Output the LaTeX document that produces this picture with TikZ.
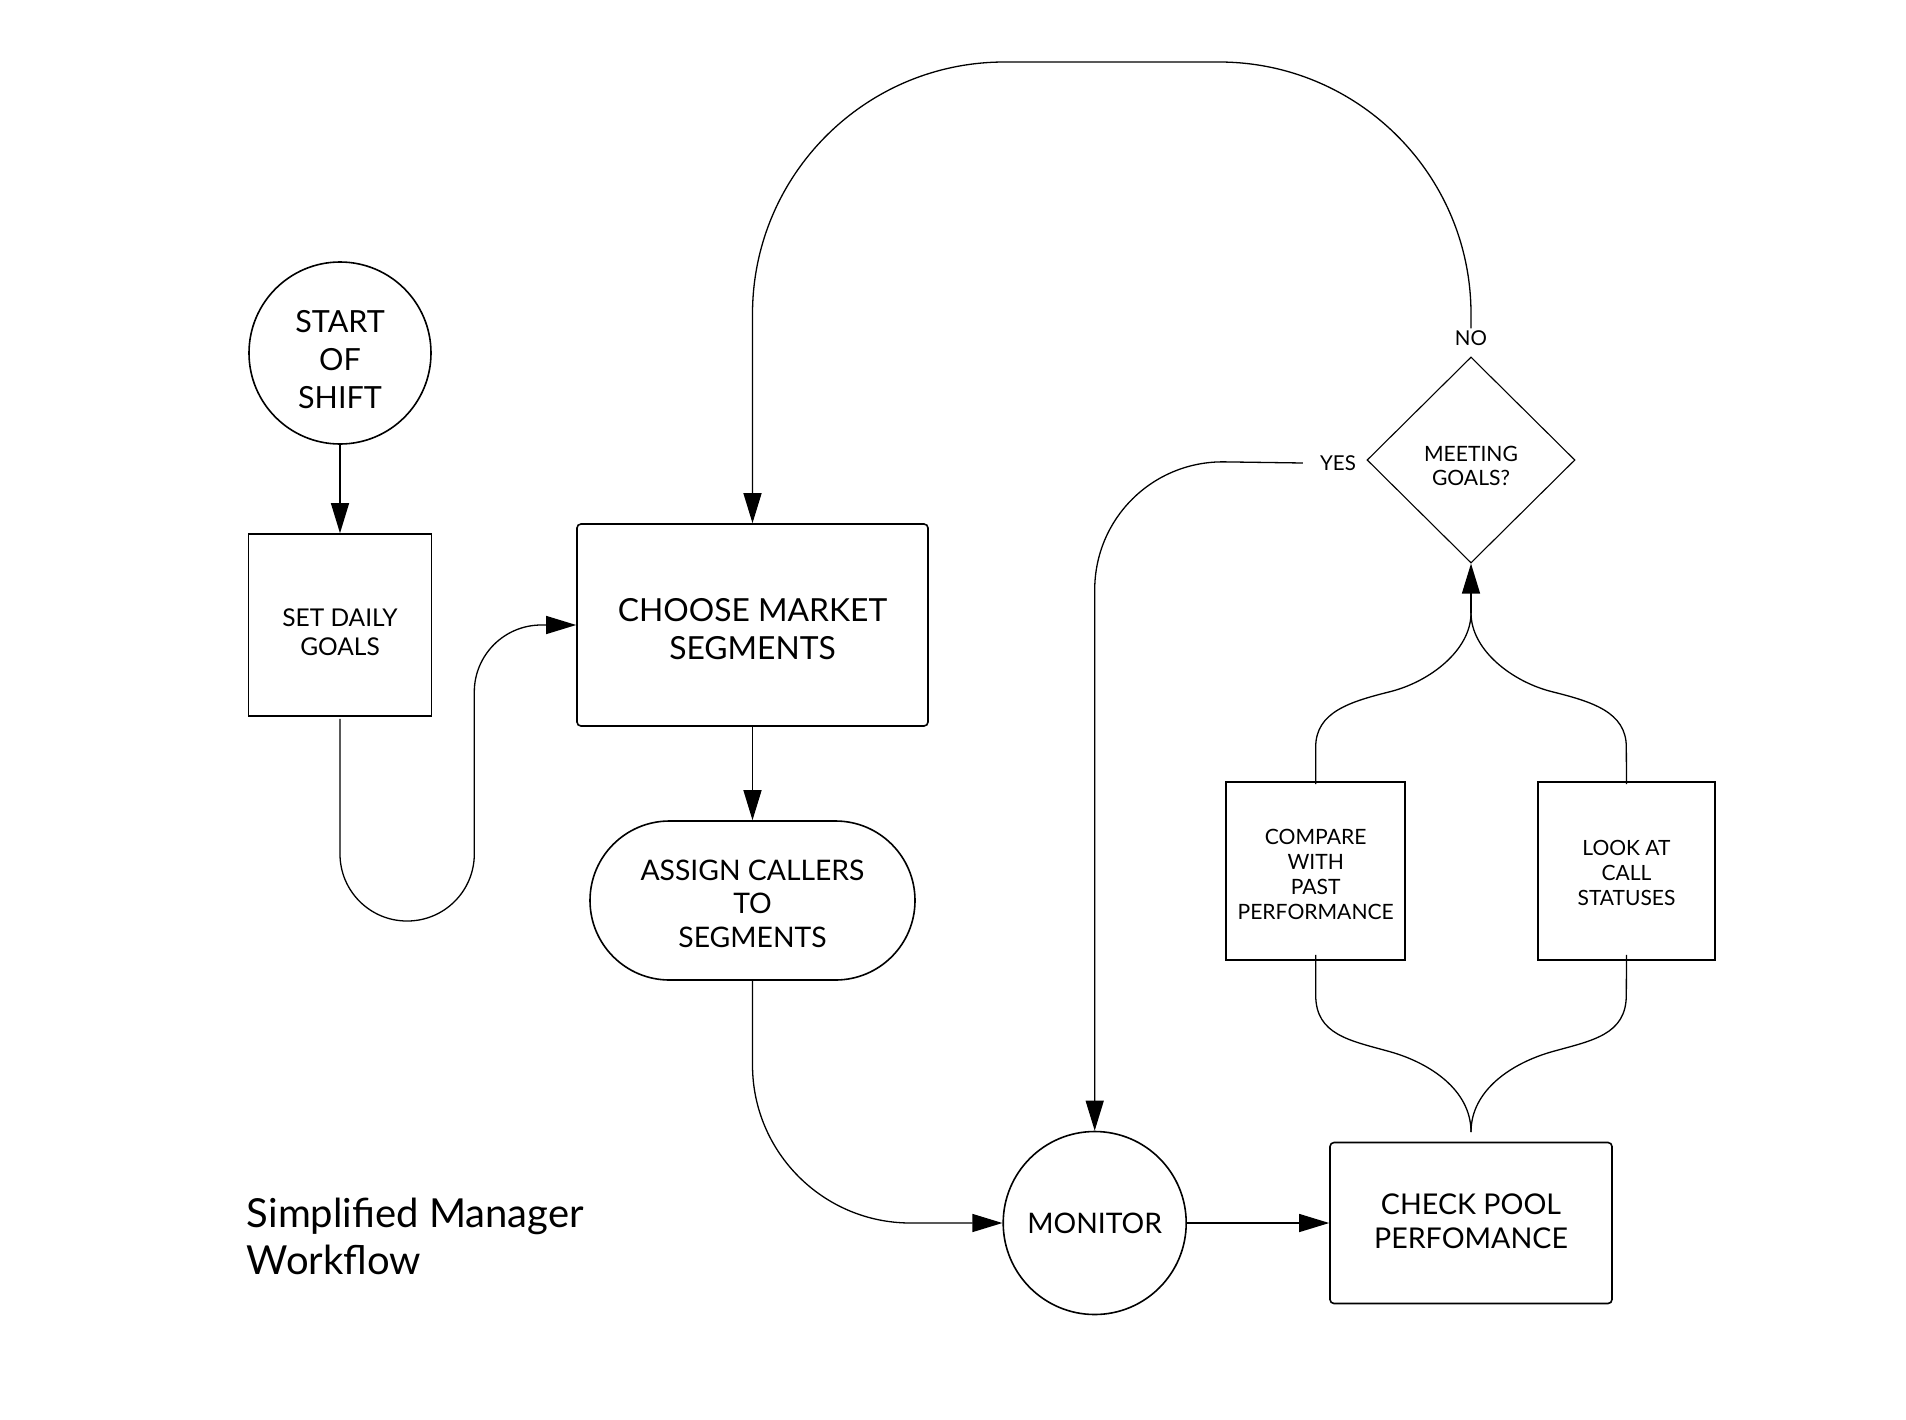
\documentclass[tikz,border=0pt]{standalone}
\usepackage{fontspec}
\setmainfont{Lato}
\usetikzlibrary{arrows.meta,shapes.geometric,calc}
\begin{document}
\begin{tikzpicture}[x=1pt,y=-1pt,
  nd/.style={draw, line width=1.6pt, inner sep=0pt},
  txt/.style={inner sep=0pt, align=center, text=black},
  conn/.style={draw, line width=1.3pt},
  arr/.style={-{Triangle[length=30pt,width=18pt]}},
  fs/.style 2 args={font=\fontsize{#1}{#2}\selectfont},
  lbl/.style={inner sep=0pt, text=black}]
\useasboundingbox (0,0) rectangle (1906,1419);
\fill[white] (0,0) rectangle (1906,1419);

% shapes
\node[nd, circle, minimum size=182pt] (start) at (340,353) {};
\node[nd, rectangle, minimum width=183pt, minimum height=182pt] (goals) at (340,625) {};
\node[nd, rectangle, rounded corners=4pt, minimum width=351pt, minimum height=202pt] (choose) at (752.5,625) {};
\node[nd, rectangle, rounded corners=79.5pt, minimum width=325pt, minimum height=159pt] (assign) at (752.5,900.5) {};
\node[nd, circle, minimum size=183pt] (monitor) at (1094.7,1223) {};
\node[nd, rectangle, rounded corners=4pt, minimum width=282pt, minimum height=161pt] (check) at (1471,1223) {};
\node[nd, rectangle, minimum width=179pt, minimum height=178pt] (compare) at (1315.7,871) {};
\node[nd, rectangle, minimum width=177pt, minimum height=178pt] (look) at (1626.5,871) {};
\node[nd, diamond, line width=1.1pt, minimum width=208pt, minimum height=206pt] (meet) at (1471,460) {};

% texts
\node[txt, fs={30.5}{38}] (starttxt) at ([yshift=-7pt]start.center) {START\\OF\\SHIFT};
\node[txt, fs={24.5}{29}] (goalstxt) at ([yshift=-7pt]goals.center) {SET DAILY\\GOALS};
\node[txt, fs={31.8}{37.5}] (choosetxt) at ([yshift=-4pt]choose.center) {CHOOSE MARKET\\SEGMENTS};
\node[txt, fs={28.3}{33.5}] (assigntxt) at ([yshift=-3pt]assign.center) {ASSIGN CALLERS\\TO\\SEGMENTS};
\node[txt, fs={28.3}{33}] (monitortxt) at (monitor.center) {MONITOR};
\node[txt, fs={28.6}{34}] (checktxt) at ([yshift=2pt]check.center) {CHECK POOL\\PERFOMANCE};
\node[txt, fs={21.1}{25}] (comparetxt) at ([yshift=-3pt]compare.center) {COMPARE\\WITH\\PAST\\PERFORMANCE};
\node[txt, fs={21}{25}] (looktxt) at ([yshift=-2pt]look.center) {LOOK AT\\CALL\\STATUSES};
\node[txt, fs={21.1}{24.5}] (meettxt) at ([yshift=-6pt]meet.center) {MEETING\\GOALS?};
\node[lbl, fs={20.5}{24}] (no) at (1471,338) {NO};
\node[lbl, fs={20.5}{24}] (yes) at (1338,463) {YES};
\node[lbl, anchor=base west, align=left, fs={40}{46.5}] (title) at (246.7,1274) {Simplified Manager\\Workflow};

% junction points of the braces
\coordinate (jtop) at (1471,613);
\coordinate (jbot) at (1471,1132);

% connectors
\draw[conn, arr] (start) -- (goals);
\draw[conn, arr, rounded corners=67pt] ([yshift=-2pt]goals.south) -- (340,921) -- (474.3,921) -- (474.3,625) -- (choose.west);
\draw[conn, arr, rounded corners=252pt] ([yshift=2pt]no.north) -- (1471,62) -- (752.5,62) -- (choose.north);
\draw[conn, arr] (choose) -- (assign);
\draw[conn, arr, rounded corners=158pt] (assign.south) -- (752.5,1223) -- (monitor.west);
\draw[conn, arr] (monitor) -- (check);
\draw[conn, arr, rounded corners=130pt] ([xshift=-17pt]yes.west) -- (monitor.north |- meet.west) -- (monitor.north);

% upper brace into the decision
\draw[conn] ([yshift=-3pt]compare.north) -- (1315.7,747)
  .. controls (1315.7,712) and (1350,701.7) .. (1390,691.7)
  .. controls (1430,681.7) and (1471,650) .. (jtop);
\draw[conn] ([yshift=-3pt]look.north) -- (1626.3,747)
  .. controls (1626.3,712) and (1592,701.7) .. (1552,691.7)
  .. controls (1512,681.7) and (1471,650) .. (jtop);
\draw[conn, arr] (jtop) -- (meet.south);

% lower brace from check pool
\draw[conn] ([yshift=6pt]compare.south) -- (1315.7,995)
  .. controls (1315.7,1035) and (1350,1040.5) .. (1390,1051.7)
  .. controls (1430,1063) and (1471,1090) .. (jbot);
\draw[conn] ([yshift=6pt]look.south) -- (1626.3,995)
  .. controls (1626.3,1035) and (1592,1040.5) .. (1552,1051.7)
  .. controls (1512,1063) and (1471,1090) .. (jbot);
\end{tikzpicture}
\end{document}
